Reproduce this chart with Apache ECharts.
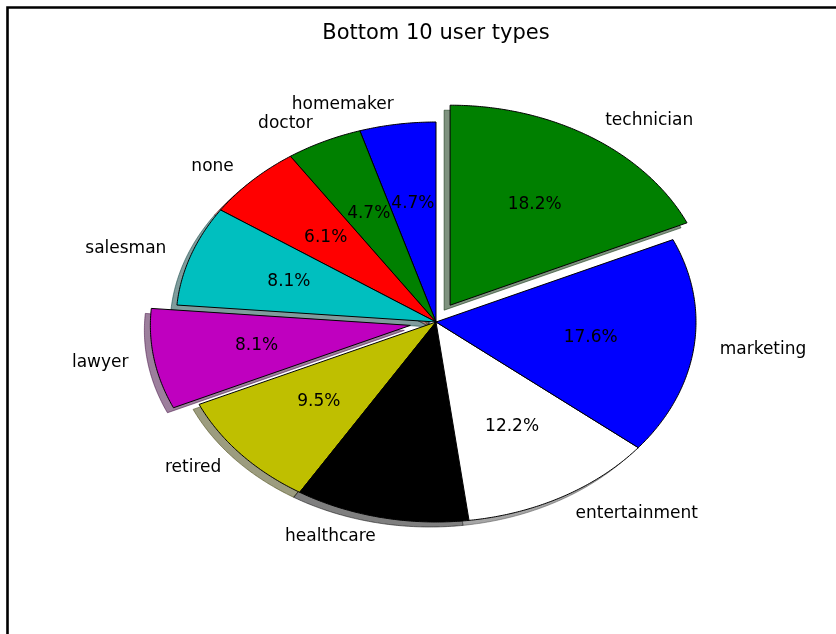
<!DOCTYPE html>
<html>
<head>
<meta charset="utf-8">
<script src="https://cdn.jsdelivr.net/npm/echarts@6/dist/echarts.min.js"></script>
<style>
html,body{margin:0;padding:0;background:#fff;}
#main{width:836px;height:634px;}
</style>
</head>
<body>
<div id="main"></div>
<script>
// ---- data ----
const chartTitle = 'Bottom 10 user types';
const categories = ['homemaker', 'doctor', 'none', 'salesman', 'lawyer', 'retired', 'healthcare', 'entertainment', 'marketing', 'technician'];
const counts = [7, 7, 9, 12, 12, 14, 16, 18, 26, 27];
const explode = [0, 0, 0, 0, 0.1, 0, 0, 0, 0, 0.1];
const sliceColors = ['#0000ff', '#008000', '#ff0000', '#00bfbf', '#bf00bf', '#bfbf00', '#000000', '#ffffff', '#0000ff', '#008000'];

// ---- layout ----
const CX = 436, CY = 322, RX = 260, RY = 200;
const START = 90; // degrees, counter-clockwise
const SHADOW_DX = -6, SHADOW_DY = 5;
const FONT = '"DejaVu Sans", "Bitstream Vera Sans", sans-serif';
const LABEL_SIZE = 17;

const total = counts.reduce((a, b) => a + b, 0);
const cumStart = [];
counts.reduce((acc, v, i) => { cumStart[i] = acc; return acc + v; }, 0);

function geom(i) {
  const a0 = START + cumStart[i] / total * 360;
  const a1 = START + (cumStart[i] + counts[i]) / total * 360;
  const am = (a0 + a1) / 2 * Math.PI / 180;
  const ox = explode[i] * RX * Math.cos(am);
  const oy = -explode[i] * RY * Math.sin(am);
  return {a0, a1, am, cx: CX + ox, cy: CY + oy};
}
function wedgePoints(g, dx, dy) {
  const pts = [[g.cx + dx, g.cy + dy]];
  const n = Math.max(2, Math.ceil((g.a1 - g.a0) / 0.5));
  for (let k = 0; k <= n; k++) {
    const a = (g.a0 + (g.a1 - g.a0) * k / n) * Math.PI / 180;
    pts.push([g.cx + dx + RX * Math.cos(a), g.cy + dy - RY * Math.sin(a)]);
  }
  return pts;
}
function shade(hex) {
  const r = parseInt(hex.slice(1, 3), 16), gg = parseInt(hex.slice(3, 5), 16), b = parseInt(hex.slice(5, 7), 16);
  return 'rgba(' + Math.round(r * 0.3) + ',' + Math.round(gg * 0.3) + ',' + Math.round(b * 0.3) + ',0.5)';
}

const seriesData = categories.map((c, i) => ({name: c, value: counts[i]}));

const chart = echarts.init(document.getElementById('main'), null, {renderer: 'canvas'});
chart.setOption({
  backgroundColor: '#ffffff',
  animation: false,
  graphic: [{
    type: 'polyline',
    shape: {points: [[7.5, 640], [7.5, 7.5], [840, 7.5]]},
    style: {stroke: '#000', lineWidth: 2.6, fill: null},
    z: 100
  }, {
    type: 'text',
    z: 100,
    style: {
      text: chartTitle, x: 436, y: 34, align: 'center', verticalAlign: 'middle',
      fill: '#000', fontFamily: FONT, fontSize: 21
    }
  }],
  series: [{
    type: 'custom',
    name: 'shadow',
    coordinateSystem: 'none',
    z: 1,
    silent: true,
    data: seriesData,
    renderItem: function (params, api) {
      const i = params.dataIndex;
      const g = geom(i);
      return {
        type: 'polygon',
        shape: {points: wedgePoints(g, SHADOW_DX, SHADOW_DY)},
        style: {fill: shade(sliceColors[i]), stroke: shade(sliceColors[i]), lineWidth: 1}
      };
    }
  }, {
    type: 'custom',
    name: 'users',
    coordinateSystem: 'none',
    z: 2,
    data: seriesData,
    renderItem: function (params, api) {
      const i = params.dataIndex;
      const g = geom(i);
      const v = api.value(0);
      const pct = (v / total * 100).toFixed(1) + '%';
      const cosm = Math.cos(g.am), sinm = Math.sin(g.am);
      const lx = g.cx + 1.1 * RX * cosm, ly = g.cy - 1.1 * RY * sinm;
      const px = g.cx + 0.6 * RX * cosm, py = g.cy - 0.6 * RY * sinm;
      return {
        type: 'group',
        children: [{
          type: 'polygon',
          shape: {points: wedgePoints(g, 0, 0)},
          style: {fill: sliceColors[i], stroke: '#000', lineWidth: 1, lineJoin: 'round'}
        }, {
          type: 'text',
          z2: 20,
          style: {
            text: pct, x: px, y: py, align: 'center', verticalAlign: 'middle',
            fill: '#000', fontFamily: FONT, fontSize: LABEL_SIZE
          }
        }, {
          type: 'text',
          z2: 20,
          style: {
            text: categories[i], x: lx, y: ly, align: cosm > 0 ? 'left' : 'right', verticalAlign: 'middle',
            fill: '#000', fontFamily: FONT, fontSize: LABEL_SIZE
          }
        }]
      };
    }
  }]
});
</script>
</body>
</html>
